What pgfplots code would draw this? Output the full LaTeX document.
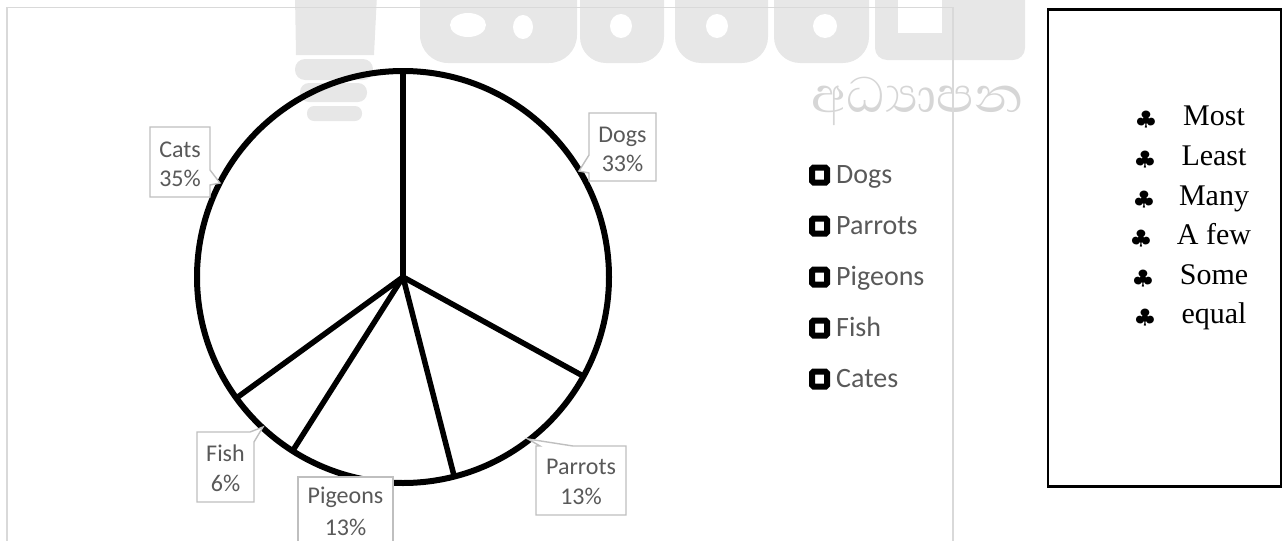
\documentclass[border=0pt]{standalone}
\usepackage{graphicx}
\usepackage{pgfplots}
\pgfplotsset{compat=1.18}
\usepackage{fontspec}
\setmainfont{Carlito}
\newfontfamily\timesf{Liberation Serif}
\newfontfamily\sinfont[Script=Sinhala]{Abhaya Libre}
\definecolor{lbl}{HTML}{595959}
\definecolor{boxgrey}{HTML}{BFBFBF}
\definecolor{framegrey}{HTML}{D9D9D9}
\definecolor{wm}{HTML}{E7E7E7}
\definecolor{wmtext}{HTML}{D6D6D6}
% pie shares in percent, clockwise from the top: Dogs, Parrots, Pigeons, Fish, Cats
\def\shares{33,13,13,6,35}
\tikzset{
  lab/.style={text=lbl, font=\fontsize{24}{29}\selectfont, anchor=base, inner sep=0pt},
  leg/.style={text=lbl, font=\fontsize{28}{28}\selectfont, anchor=base west, inner sep=0pt},
  itm/.style={font=\timesf\fontsize{30}{30}\selectfont, anchor=base, inner sep=0pt},
  club/.style={anchor=base, inner sep=0pt, font=\fontsize{27}{27}\selectfont},
  callout/.style={draw=boxgrey, fill=white, line width=1.4pt},
  legsq/.style={line width=6pt, rounded corners=1.5pt, fill=white},
}
\newcommand\clubsym{\scalebox{1}[0.8]{$\clubsuit$}}
\begin{document}
\begin{tikzpicture}
\begin{axis}[name=ax, width=1283pt, height=541pt, scale only axis,
  xmin=0, xmax=1283, ymin=0, ymax=541, y dir=reverse,
  hide axis, clip=false]
% ---- watermark
\fill[wm] (295,-5) -- (377,-5) -- (374,55) -- (296,55) -- cycle;
\fill[wm, rounded corners=10pt] (295,59) rectangle (373,80);
\fill[wm, rounded corners=9pt] (300,83) rectangle (367,102);
\fill[wm, rounded corners=7pt] (307,106) rectangle (362,121);
\fill[wm, rounded corners=28pt] (420,-60) rectangle (577,63);
\fill[white] (468,25) ellipse [x radius=18pt, y radius=12pt];
\fill[white] (523,27) ellipse [x radius=10pt, y radius=12pt];
\fill[wm, rounded corners=26pt] (580,-60) rectangle (664,63);
\fill[white] (621,26) ellipse [x radius=11pt, y radius=12pt];
\fill[wm, rounded corners=26pt] (675,-60) rectangle (768,63);
\fill[white] (717,26) ellipse [x radius=11pt, y radius=12pt];
\fill[wm, rounded corners=26pt] (774,-60) rectangle (869,63);
\fill[white] (825,26) ellipse [x radius=12pt, y radius=12pt];
\fill[wm, rounded corners=12pt] (875,-60) rectangle (1025,60);
\fill[white] (898,-5) rectangle (942,33);
\node[anchor=west, text=wmtext, font=\sinfont\fontsize{64}{64}\selectfont, inner sep=0pt] at (811,101) {අධ්‍යාපන};
% ---- chart frame
\draw[framegrey, line width=1.3pt] (7,600) -- (7,7.5) -- (953,7.5) -- (953,600);
% ---- pie
\draw[line width=6pt] (403,277) circle[radius=206pt];
\gdef\cum{0}
\foreach \p in \shares {
  \edef\tmp{\noexpand\draw[line width=5.5pt] (403,277) -- ({403+206*cos(90-3.6*\cum)},{277-206*sin(90-3.6*\cum)});}
  \tmp
  \pgfmathsetmacro\newcum{\cum+\p}
  \xdef\cum{\newcum}
}
% ---- data labels
\draw[callout] (589,113) -- (656,113) -- (656,181) -- (589,181) -- (589,173) -- (579,171) -- (589,155) -- cycle;
\node[lab] at (622.5,142) {Dogs};
\node[lab] at (622.5,171) {33\%};
\draw[callout] (150,127) -- (210,127) -- (210,170) -- (220,183) -- (210,185) -- (210,197) -- (150,197) -- cycle;
\node[lab] at (180,157) {Cats};
\node[lab] at (180,186) {35\%};
\draw[callout] (197,432) -- (250,432) -- (263,427) -- (254,442) -- (254,502) -- (197,502) -- cycle;
\node[lab] at (225.5,461) {Fish};
\node[lab] at (225.5,491) {6\%};
\draw[callout] (298,477) -- (393,477) -- (393,600) -- (298,600) -- cycle;
\node[lab] at (345.5,503) {Pigeons};
\node[lab] at (345.5,535) {13\%};
\draw[callout] (536,446) -- (540,446) -- (528,439) -- (573,446) -- (626,446) -- (626,515) -- (536,515) -- cycle;
\node[lab] at (581,474) {Parrots};
\node[lab] at (581,504) {13\%};
% ---- legend
\draw[legsq] (812,167.5) rectangle (827,182.5);
\node[leg] at (836,183.5) {Dogs};
\draw[legsq] (812,218.5) rectangle (827,233.5);
\node[leg] at (836,234.5) {Parrots};
\draw[legsq] (812,269.5) rectangle (827,284.5);
\node[leg] at (836,285.5) {Pigeons};
\draw[legsq] (812,320.5) rectangle (827,335.5);
\node[leg] at (836,336.5) {Fish};
\draw[legsq] (812,371.5) rectangle (827,386.5);
\node[leg] at (836,387.5) {Cates};
% ---- word box
\draw[line width=2.7pt] (1048,9.3) rectangle (1281,486.3);
\node[itm] at (1214,125) {Most};
\node[itm] at (1214,165) {Least};
\node[itm] at (1214,205) {Many};
\node[itm] at (1214,244) {A few};
\node[itm] at (1214,284) {Some};
\node[itm] at (1214,323) {equal};
\node[club] at (1146,125) {\clubsym};
\node[club] at (1145,165) {\clubsym};
\node[club] at (1144,205) {\clubsym};
\node[club] at (1141,244) {\clubsym};
\node[club] at (1143,284) {\clubsym};
\node[club] at (1145,323) {\clubsym};
\end{axis}
\pgfresetboundingbox
\path (ax.south west) rectangle (ax.north east);
\end{tikzpicture}
\end{document}
